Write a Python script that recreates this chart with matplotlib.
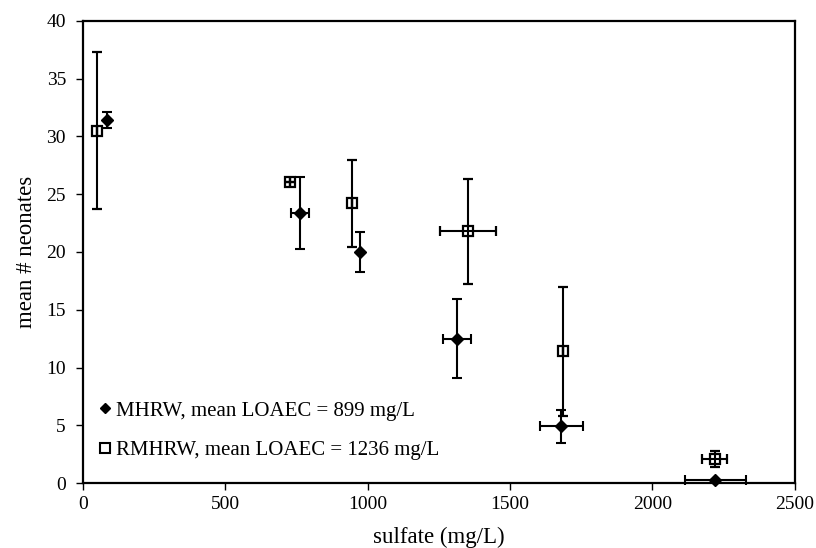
import matplotlib.pyplot as plt
from matplotlib.lines import Line2D

plt.rcParams['font.family'] = ['Liberation Serif', 'DejaVu Serif']

# MHRW (filled diamonds)
mhrw_x = [86, 763, 974, 1314, 1680, 2221]
mhrw_y = [31.4, 23.4, 20.0, 12.5, 4.9, 0.3]
mhrw_yerr = [0.7, 3.1, 1.7, 3.4, 1.45, 0.0]
mhrw_xerr = [0, 33, 0, 50, 75, 107]

# RMHRW (open squares)
rmhrw_x = [51, 728, 947, 1352, 1688, 2219]
rmhrw_y = [30.5, 26.1, 24.2, 21.8, 11.4, 2.1]
rmhrw_yerr = [6.8, 0.0, 3.8, 4.55, 5.6, 0.7]
rmhrw_xerr = [0, 0, 0, 99, 0, 43]

fig = plt.figure(figsize=(8.16, 5.48), dpi=100)
ax = fig.add_axes([0.1013, 0.1186, 0.8727, 0.8431])

eb1 = ax.errorbar(rmhrw_x, rmhrw_y, yerr=rmhrw_yerr, xerr=rmhrw_xerr, fmt='s',
                  mfc='none', mec='black', mew=1.6, ms=7.5, ecolor='black',
                  elinewidth=1.5, capsize=3.5, capthick=1.5, zorder=3)
eb2 = ax.errorbar(mhrw_x, mhrw_y, yerr=mhrw_yerr, xerr=mhrw_xerr, fmt='D',
                  mfc='black', mec='black', ms=6.5, ecolor='black',
                  elinewidth=1.5, capsize=3.5, capthick=1.5, zorder=4)
for eb in (eb1, eb2):
    for artist in eb.lines[0:1] + eb.lines[1] + eb.lines[2]:
        if artist is not None:
            artist.set_clip_on(False)

ax.set_xlim(0, 2500)
ax.set_ylim(0, 40)
ax.set_xticks(range(0, 2501, 500))
ax.set_yticks(range(0, 41, 5))
ax.tick_params(direction='out', length=5, width=1, labelsize=14, colors='black')
ax.tick_params(axis='x', pad=4)
ax.tick_params(axis='y', pad=7)
for s in ax.spines.values():
    s.set_linewidth(1.6)

ax.set_xlabel('sulfate (mg/L)', fontsize=16.5, labelpad=10)
ax.set_ylabel('mean # neonates', fontsize=16.5, labelpad=7)

handles = [
    Line2D([], [], ls='none', marker='D', mfc='black', mec='black', ms=5.5),
    Line2D([], [], ls='none', marker='s', mfc='none', mec='black', mew=1.5, ms=6.5),
]
labels = ['MHRW, mean LOAEC = 899 mg/L', 'RMHRW, mean LOAEC = 1236 mg/L']
ax.legend(handles, labels, loc='lower left', bbox_to_anchor=(0.023, 0.05),
          frameon=False, borderpad=0, borderaxespad=0, handlelength=0.6,
          handletextpad=0.2, labelspacing=0.95, fontsize=15)

fig.savefig('out.png', dpi=100)
